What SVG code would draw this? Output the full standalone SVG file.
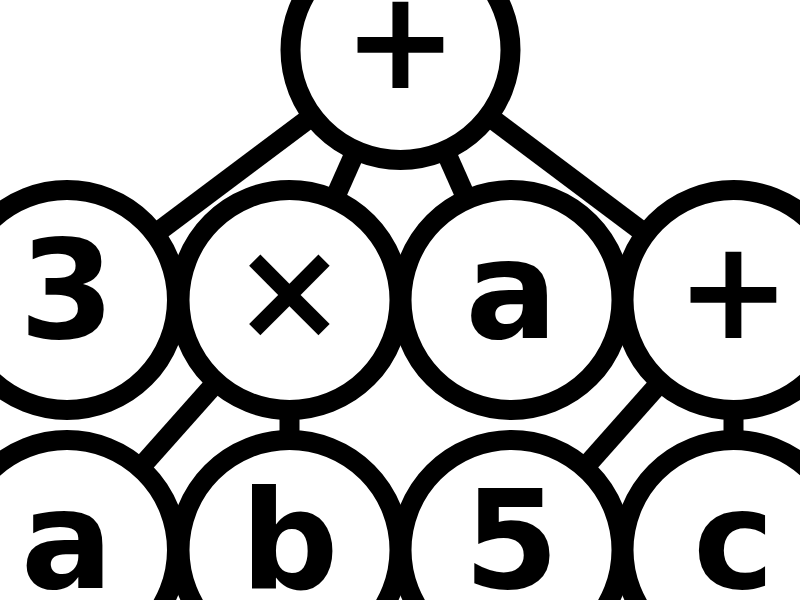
<svg xmlns="http://www.w3.org/2000/svg" width="800" height="600" viewBox="0 0 800 600">
<style>
.edge{stroke:#000;stroke-width:20;fill:none}
.node circle{fill:#fff;stroke:#000;stroke-width:20}
.node text{font-family:"DejaVu Sans",sans-serif;font-weight:bold;font-size:137px;text-anchor:middle;fill:#000}
</style>
<rect width="800" height="600" fill="#fff"/>
<g id="edges">
<line class="edge" x1="400.5" y1="50" x2="67" y2="300"/>
<line class="edge" x1="400.5" y1="50" x2="289.5" y2="300"/>
<line class="edge" x1="400.5" y1="50" x2="511.5" y2="300"/>
<line class="edge" x1="400.5" y1="50" x2="733.5" y2="300"/>
<line class="edge" x1="289.5" y1="300" x2="67" y2="550"/>
<line class="edge" x1="289.5" y1="300" x2="289.5" y2="550"/>
<line class="edge" x1="733.5" y1="300" x2="511.5" y2="550"/>
<line class="edge" x1="733.5" y1="300" x2="733.5" y2="550"/>
</g>
<g id="n-plus-top" class="node"><circle cx="400.5" cy="50" r="110"/><text x="400.5" y="88">+</text></g>
<g id="n-3" class="node"><circle cx="67" cy="300" r="110"/><text x="67" y="338">3</text></g>
<g id="n-times" class="node"><circle cx="289.5" cy="300" r="110"/><text x="289.5" y="338">×</text></g>
<g id="n-a1" class="node"><circle cx="511.5" cy="300" r="110"/><text x="511.5" y="338">a</text></g>
<g id="n-plus-right" class="node"><circle cx="733.5" cy="300" r="110"/><text x="733.5" y="338">+</text></g>
<g id="n-a2" class="node"><circle cx="67" cy="550" r="110"/><text x="67" y="588">a</text></g>
<g id="n-b" class="node"><circle cx="289.5" cy="550" r="110"/><text x="289.5" y="588">b</text></g>
<g id="n-5" class="node"><circle cx="511.5" cy="550" r="110"/><text x="511.5" y="588">5</text></g>
<g id="n-c" class="node"><circle cx="733.5" cy="550" r="110"/><text x="733.5" y="588">c</text></g>
</svg>
